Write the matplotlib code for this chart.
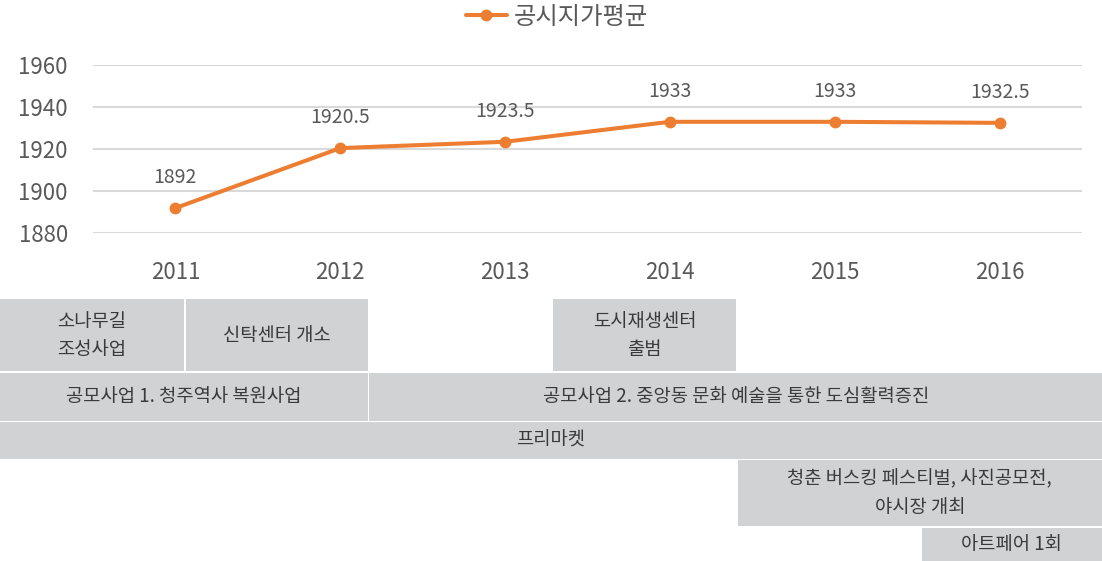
import matplotlib
matplotlib.use("Agg")
import matplotlib.pyplot as plt
from matplotlib.patches import Rectangle

plt.rcParams['font.family'] = ['Noto Sans CJK KR', 'DejaVu Sans']

# ---- data ----
years = ['2011', '2012', '2013', '2014', '2015', '2016']
values = [1892, 1920.5, 1923.5, 1933, 1933, 1932.5]
value_labels = ['1892', '1920.5', '1923.5', '1933', '1933', '1932.5']
series_name = '공시지가평균'
y_ticks = [1880, 1900, 1920, 1940, 1960]

# timeline table entries
table_texts = ['소나무길\n조성사업', '신탁센터 개소', '도시재생센터\n출범',
               '공모사업 1. 청주역사 복원사업',
               '공모사업 2. 중앙동 문화 예술을 통한 도심활력증진',
               '프리마켓',
               '청춘 버스킹 페스티벌, 사진공모전,\n야시장 개최',
               '아트페어 1회']
# layout: (row, first column, last column+1)
table_spans = [(0, 0, 1), (0, 1, 2), (0, 3, 4),
               (1, 0, 2), (1, 2, 6),
               (2, 0, 6),
               (3, 4, 6),
               (4, 5, 6)]

# ---- figure ----
W, H = 1102, 561
fig = plt.figure(figsize=(W / 100, H / 100), dpi=100)

ORANGE = '#ED7D31'
TXT = '#595959'
GRID = '#D9D9D9'
BOX = '#D1D2D4'

# table layer (pixel coordinates)
axt = fig.add_axes([0, 0, 1, 1], zorder=0)
axt.set_xlim(0, W)
axt.set_ylim(H, 0)
axt.axis('off')
col_edges = [0, 184.8, 368.5, 552.5, 736.8, 921, 1102]
row_edges = [299, 372, 421.3, 459.6, 527, 562]
gap = 0.8
for txt, (r, c0, c1) in zip(table_texts, table_spans):
    x0 = col_edges[c0] + (gap if c0 > 0 else 0)
    x1 = col_edges[c1] - (gap if c1 < 6 else 0)
    y0 = row_edges[r] + (gap if r > 0 else 0)
    y1 = row_edges[r + 1] - gap
    axt.add_patch(Rectangle((x0, y0), x1 - x0, y1 - y0, facecolor=BOX,
                            edgecolor='none'))
    axt.text((x0 + x1) / 2, (y0 + y1) / 2, txt, ha='center', va='center',
             fontsize=13.5, color='#3A3A3A', linespacing=1.45)

# line chart
ax = fig.add_axes([93 / W, 1 - 233.3 / H, 989 / W, (233.3 - 65) / H], zorder=1)
ax.patch.set_alpha(0)
x = list(range(len(years)))
line, = ax.plot(x, values, color=ORANGE, lw=2.9, marker='o', ms=7.5,
                solid_capstyle='round', label=series_name, zorder=3)
for xi, v, lab in zip(x, values, value_labels):
    ax.annotate(lab, (xi, v), xytext=(0, 22), textcoords='offset points',
                ha='center', va='center', fontsize=14, color=TXT)
ax.set_xlim(-0.5, len(years) - 0.5)
ax.set_ylim(1880, 1960)
ax.set_yticks(y_ticks)
ax.set_xticks(x)
ax.set_xticklabels(years)
ax.tick_params(axis='both', length=0, labelsize=16, labelcolor=TXT)
ax.tick_params(axis='y', pad=18)
ax.tick_params(axis='x', pad=20)
ax.grid(axis='y', color=GRID, lw=1.5)
ax.set_axisbelow(True)
for s in ax.spines.values():
    s.set_visible(False)

fig.legend(handles=[line], loc='center', bbox_to_anchor=(557 / W, 1 - 17 / H),
           frameon=False, fontsize=17.5, handlelength=1.7, handletextpad=0.3,
           labelcolor=TXT)

fig.savefig('out.png', dpi=100)
